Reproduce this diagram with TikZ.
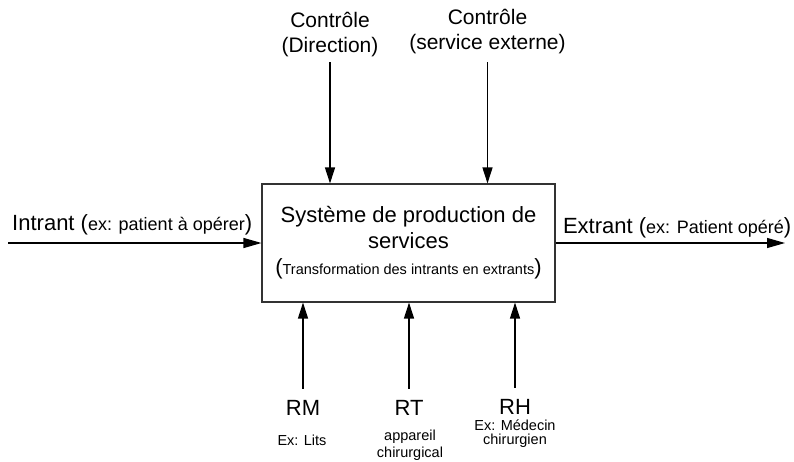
\documentclass[tikz,border=0pt]{standalone}
\usepackage{fontspec}
\setmainfont{Liberation Sans}
\usetikzlibrary{arrows.meta}
\tikzset{
    SYS/.style ={rectangle,minimum width = 293pt, minimum height =118pt, draw=black!80, line width=1.1pt, align=center, font=\fontsize{22}{26}\selectfont, inner sep=0pt},
    BIG/.style ={inner sep=0pt, font=\fontsize{22}{25}\selectfont},
    CTL/.style ={inner sep=0pt, align=center, font=\fontsize{21}{25}\selectfont},
    SMA/.style ={inner sep=0pt, align=center, font=\fontsize{14.5}{16}\selectfont},
    AR/.style ={line width=1.2pt, -{Triangle[length=16pt,width=10pt]}},
    ARH/.style ={line width=1.2pt, -{Triangle[length=18pt,width=10pt]}}}
\newcommand{\sm}[1]{{\fontsize{18}{20}\selectfont #1}}

\begin{document}
\begin{tikzpicture}[x=1pt,y=-1pt]
        \useasboundingbox (0,0) rectangle (794,461);
        \node[SYS] (S) at(408.5,243){Système de production de\\services\\({\fontsize{14.5}{26}\selectfont Transformation des intrants en extrants})};
        \coordinate (I0) at(8,243);
        \coordinate (E1) at(785,243);
        \node[CTL, anchor=south] (C1) at(330,57.4){Contrôle\\(Direction)};
        \node[CTL, anchor=south] (C2) at(487.5,54.4){Contrôle\\(service externe)};
        \node[BIG, anchor=base] (RM) at(303,415){RM};
        \node[BIG, anchor=base] (RT) at(409,415){RT};
        \node[BIG, anchor=base] (RH) at(515,414){RH};
        \node[SMA, anchor=base] (RM1) at(302,445){Ex: Lits};
        \node[SMA, anchor=north] (RT1) at(410,429.6){appareil\\[1pt]chirurgical};
        \node[SMA, anchor=north] (RH1) at(515,419.3){Ex: Médecin\\[-2pt]chirurgien};
        \draw[ARH] (I0) -- (S) node[BIG, pos=0.49, anchor=base, yshift=13pt]{Intrant (\sm{ex: patient à opérer})};
        \draw[ARH] (S) -- (E1) node[BIG, pos=0.53, anchor=base, yshift=10pt]{Extrant (\sm{ex: Patient opéré})};
        \draw[AR, shorten <=4.6pt] (C1) -- (C1 |- S.north);
        \draw[AR, shorten <=7.6pt] (C2) -- (C2 |- S.north);
        \draw[AR, shorten <=11pt] (RM) -- (RM |- S.south);
        \draw[AR, shorten <=11pt] (RT) -- (RT |- S.south);
        \draw[AR, shorten <=11pt] (RH) -- (RH |- S.south);
    \end{tikzpicture}
\end{document}
